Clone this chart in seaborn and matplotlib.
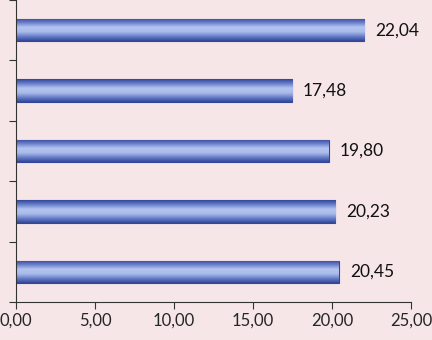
import numpy as np
import pandas as pd
import matplotlib
matplotlib.use('Agg')
import matplotlib.pyplot as plt
import seaborn as sns
from matplotlib.colors import LinearSegmentedColormap

categories = ['1', '2', '3', '4', '5']
values = [22.04, 17.48, 19.80, 20.23, 20.45]
x_ticks = [0, 5, 10, 15, 20, 25]

df = pd.DataFrame({'cat': categories, 'value': values})

sns.set_style('white')
plt.rcParams['font.family'] = ['Lato', 'DejaVu Sans']

bg = '#f6e6e8'
fig = plt.figure(figsize=(4.32, 3.4), dpi=100, facecolor=bg)
ax = fig.add_axes([0.037, 0.112, 0.914, 0.888], facecolor=bg)

sns.barplot(data=df, x='value', y='cat', orient='h', width=0.37,
            color='#6f82c8', edgecolor='#34469a', linewidth=0.8, ax=ax)

# gradient fill inside each bar
cmap = LinearSegmentedColormap.from_list(
    'bar', ['#33479a', '#6d82cc', '#b4c4f0', '#a9bbea', '#6a7fc8', '#33479a'])
grad = np.linspace(0, 1, 64).reshape(-1, 1)
for p in ax.patches:
    x0, y0 = p.get_x(), p.get_y()
    w, h = p.get_width(), p.get_height()
    im = ax.imshow(grad, cmap=cmap, aspect='auto',
                   extent=[x0, x0 + w, y0 + h, y0], zorder=p.get_zorder() + 0.1)
    im.set_clip_path(p)

for i, v in enumerate(values):
    ax.text(v + 0.7, i, f"{v:.2f}".replace('.', ','), va='center',
            ha='left', fontsize=12.5, color='#111111')

ax.set_xlim(0, 25)
ax.set_ylim(4.5, -0.5)
ax.set_xticks(x_ticks)
ax.set_xticklabels([f"{t:.2f}".replace('.', ',') for t in x_ticks], fontsize=12)
ax.set_yticks(np.arange(-0.5, 5, 1))
ax.set_yticklabels([])
ax.set_xlabel('')
ax.set_ylabel('')
ax.tick_params(axis='both', direction='out', length=5, width=0.8, color='#333333',
               left=True, bottom=True, pad=3)
for s in ['top', 'right']:
    ax.spines[s].set_visible(False)
for s in ['left', 'bottom']:
    ax.spines[s].set_color('#333333')
    ax.spines[s].set_linewidth(0.8)

fig.savefig('out.png', dpi=100, facecolor=bg)
